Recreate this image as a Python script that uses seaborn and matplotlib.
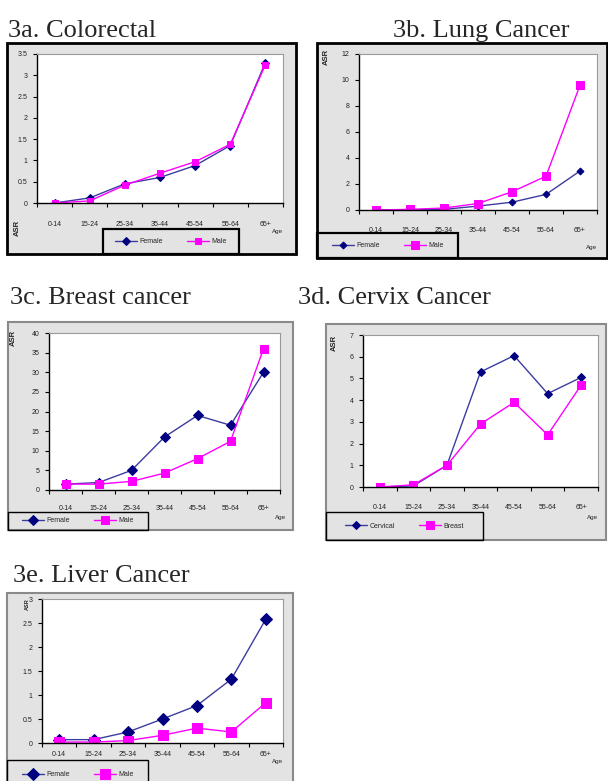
import numpy as np
import matplotlib
matplotlib.use("Agg")
import matplotlib.pyplot as plt
from matplotlib.patches import Rectangle
import seaborn as sns

sns.set_style("white")
plt.rcParams['font.family'] = ['Liberation Sans', 'DejaVu Sans']

# Figure size in pixels (dpi = 100)
W, H = 608, 781

# Data (age-standardised rates)
age_groups = ["0-14", "15-24", "25-34", "35-44", "45-54", "55-64", "65+"]

colorectal_female = [0.0, 0.12, 0.45, 0.60, 0.88, 1.35, 3.30]
colorectal_male = [0.0, 0.05, 0.42, 0.70, 0.97, 1.38, 3.25]

lung_female = [0.0, 0.0, 0.05, 0.30, 0.60, 1.20, 3.00]
lung_male = [0.0, 0.05, 0.15, 0.50, 1.40, 2.60, 9.60]

breast_female = [1.5, 1.9, 5.0, 13.5, 19.0, 16.5, 30.0]
breast_male = [1.5, 1.5, 2.2, 4.3, 8.0, 12.4, 36.0]

cervix_cervical = [0.0, 0.05, 1.0, 5.3, 6.05, 4.3, 5.05]
cervix_breast = [0.0, 0.10, 1.0, 2.9, 3.9, 2.4, 4.7]

liver_female = [0.07, 0.07, 0.23, 0.50, 0.78, 1.33, 2.58]
liver_male = [0.02, 0.02, 0.05, 0.16, 0.31, 0.23, 0.84]

NAVY = "#000080"
NAVY_LINE = "#3c3ca0"
MAGENTA = "#ff00ff"
GREY_BG = "#e3e3e3"


def px_rect(x0, y0, x1, y1):
    """pixel box (top-left origin) -> figure fraction rect"""
    return [x0 / W, 1 - y1 / H, (x1 - x0) / W, (y1 - y0) / H]


def fig_xy(x, y):
    return x / W, 1 - y / H


def draw_chart(fig, title, title_xy, box, box_edge, box_lw, plot, s1, s2, names,
               yticks, ylabels, legend_box, legend_lw, asr_xy, asr_size, age_xy,
               label_pad, ms1=4, ms2=5):
    # title text above the chart
    fig.text(*fig_xy(*title_xy), title, fontsize=19, family='Liberation Serif',
             va='baseline', ha='left')

    # grey chart area
    bx = px_rect(*box)
    fig.add_artist(Rectangle((bx[0], bx[1]), bx[2], bx[3], transform=fig.transFigure,
                             facecolor=GREY_BG, edgecolor=box_edge, lw=box_lw, zorder=0))

    ax = fig.add_axes(px_rect(*plot))
    ax.set_facecolor('white')
    pos = np.arange(len(age_groups))
    sns.lineplot(x=pos, y=s1, ax=ax, color=NAVY_LINE, lw=1.0, marker='D',
                 markersize=ms1, markerfacecolor=NAVY, markeredgecolor=NAVY)
    sns.lineplot(x=pos, y=s2, ax=ax, color=MAGENTA, lw=1.0, marker='s',
                 markersize=ms2, markerfacecolor=MAGENTA, markeredgecolor=MAGENTA)

    ax.set_xlim(-0.5, len(age_groups) - 0.5)
    ax.set_ylim(yticks[0], yticks[-1])
    ax.set_xticks(np.arange(-0.5, len(age_groups), 1))
    ax.set_xticklabels([])
    ax.set_xticks(pos, minor=True)
    ax.set_xticklabels(age_groups, minor=True, fontsize=5, color='#222')
    ax.tick_params(axis='x', which='major', direction='out', length=3, width=0.8,
                   color='black', bottom=True)
    ax.tick_params(axis='x', which='minor', length=0, pad=label_pad)
    ax.set_yticks(yticks)
    ax.set_yticklabels(ylabels, fontsize=5, color='#222')
    ax.tick_params(axis='y', direction='out', length=3, width=0.8, color='black',
                   left=True, pad=4)
    ax.set_xlabel('')
    ax.set_ylabel('')
    for side in ['top', 'right']:
        ax.spines[side].set_color('#9a9a9a')
        ax.spines[side].set_linewidth(0.8)
    for side in ['left', 'bottom']:
        ax.spines[side].set_color('black')
        ax.spines[side].set_linewidth(1.0)

    lines = ax.get_lines()
    lx0, ly0, lx1, ly1 = legend_box
    fig.add_artist(Rectangle(fig_xy(lx0, ly1), (lx1 - lx0) / W, (ly1 - ly0) / H,
                             transform=fig.transFigure, facecolor='none',
                             edgecolor='black', lw=legend_lw, zorder=3))
    fig.legend(lines[:2], names, loc='center',
               bbox_to_anchor=fig_xy((lx0 + lx1) / 2, (ly0 + ly1) / 2),
               ncol=2, fontsize=5, frameon=False, handlelength=3.2,
               columnspacing=3.5, handletextpad=0.3, borderpad=0.2)

    fig.text(*fig_xy(*asr_xy), 'ASR', rotation=90, fontsize=asr_size, fontweight='bold',
             ha='center', va='center')
    fig.text(*fig_xy(*age_xy), 'Age', fontsize=4.5, ha='center', va='center')
    return ax


fig = plt.figure(figsize=(W / 100, H / 100), dpi=100)

# 3a. Colorectal
draw_chart(fig, "3a. Colorectal", (8, 37), (7, 43, 296, 254), 'black', 2.0,
           (37, 54, 283, 203), colorectal_female, colorectal_male, ['Female', 'Male'],
           np.arange(0, 3.51, 0.5), ['0', '0.5', '1', '1.5', '2', '2.5', '3', '3.5'],
           (103, 229, 239, 254), 1.6, (17, 228), 5.5, (278, 232), 13, ms1=4.5, ms2=5)

# 3b. Lung cancer
draw_chart(fig, "3b. Lung Cancer", (393, 37), (317, 43, 607, 258), 'black', 2.0,
           (359, 54, 597, 210), lung_female, lung_male, ['Female', 'Male'],
           np.arange(0, 12.1, 2), ['0', '2', '4', '6', '8', '10', '12'],
           (317, 233, 458, 258), 1.6, (326, 57), 5.5, (592, 248), 12, ms1=3.5, ms2=6)

# 3c. Breast cancer
draw_chart(fig, "3c. Breast cancer", (10, 304), (8, 322, 293, 530), '#8a8a8a', 1.5,
           (49, 333, 280, 490), breast_female, breast_male, ['Female', 'Male'],
           np.arange(0, 40.1, 5), [str(v) for v in range(0, 41, 5)],
           (8, 512, 148, 530), 1.0, (13, 338), 5.5, (281, 517), 11, ms1=5, ms2=5.5)

# 3d. Cervix cancer
draw_chart(fig, "3d. Cervix Cancer", (298, 304), (326, 324, 606, 540), '#8a8a8a', 1.5,
           (363, 335, 598, 487), cervix_cervical, cervix_breast, ['Cervical', 'Breast'],
           np.arange(0, 7.1, 1), [str(v) for v in range(0, 8)],
           (326, 512, 483, 540), 1.0, (334, 343), 5.5, (593, 518), 12, ms1=4.5, ms2=5.5)

# 3e. Liver cancer
draw_chart(fig, "3e. Liver Cancer", (13, 582), (7, 593, 293, 790), '#8a8a8a', 1.5,
           (42, 599, 283, 743), liver_female, liver_male, ['Female', 'Male'],
           np.arange(0, 3.01, 0.5), ['0', '0.5', '1', '1.5', '2', '2.5', '3'],
           (7, 760, 148, 790), 1.0, (27, 604), 4, (278, 762), 6, ms1=6, ms2=7)

fig.savefig("out.png", dpi=100)
